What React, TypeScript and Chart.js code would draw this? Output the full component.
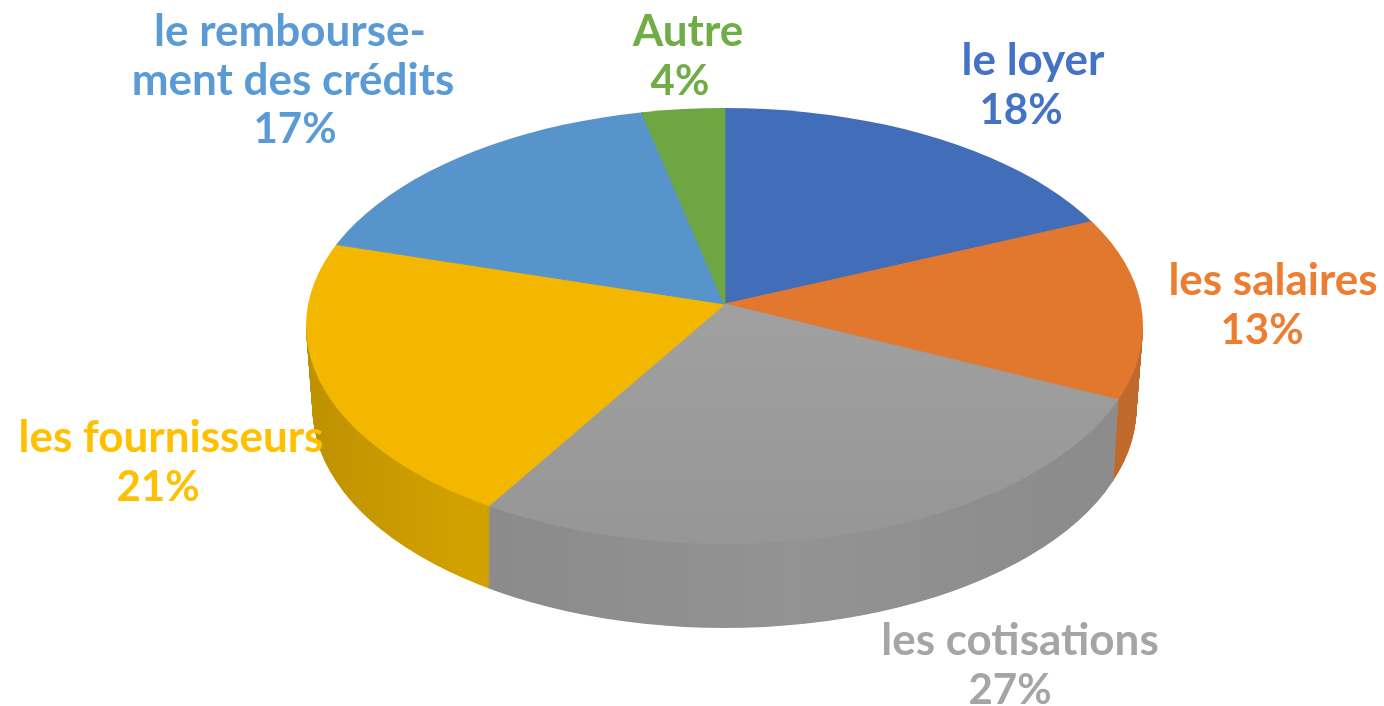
import React, { useEffect, useRef } from "react";
import { Chart, registerables } from "chart.js";

Chart.register(...registerables);

const categories = ["le loyer", "les salaires", "les cotisations", "les fournisseurs", "le rembourse-\nment des crédits", "Autre"];
const shares = [18, 13, 27, 21, 17, 4];
const faceColors = ["#426DB9", "#E2772E", "#9E9E9E", "#F3B700", "#5894CC", "#6EA644"];
const labelColors = ["#4472C4", "#ED7D31", "#A5A5A5", "#FFC000", "#5B9BD5", "#70AD47"];
const wallStops: (string[] | null)[] = [
  null,
  ["#C1692A", "#C1692A"],
  ["#8A8A8A", "#939393", "#8C8C8C"],
  ["#B88C00", "#D2A100"],
  null,
  null,
];
const wallSpans = [[0, 0], [1100, 1145], [490, 1118], [310, 490], [0, 0], [0, 0]];

// Where the text of each slice goes: centre x of every line, and first baseline.
const labelBoxes = [
  { xs: [1033, 1021], y: 75 },
  { xs: [1273, 1262], y: 295 },
  { xs: [1020, 1010], y: 655 },
  { xs: [171, 158], y: 452 },
  { xs: [290, 293, 295], y: 46 },
  { xs: [688, 680], y: 46 },
];
const lineStep = 48.5;

// The disc is seen in perspective: its outline is one ellipse, the apex sits above
// that ellipse's centre, and each quadrant round the apex has its own foreshortening.
const apex = { x: 724.5, y: 304 };
const outline = { cy: 326, rx: 418.5, ry: 218 };
const wallBottom = { cy: 408, rx: 412, ry: 220 };
const quadrants = [
  { ratio: 2.097, right: true, down: false },
  { ratio: 1.63, right: true, down: true },
  { ratio: 2.127, right: false, down: true },
  { ratio: 1.68, right: false, down: false },
];
const reachY = 320;
const wallLayers = 110;

const piePlugin = {
  id: "tiltedPie",
  beforeDatasetDraw() {
    return false;
  },
  afterDatasetsDraw(chart: any) {
    const ctx: CanvasRenderingContext2D = chart.ctx;
    const arcs = chart.getDatasetMeta(0).data;
    const R = arcs[0].outerRadius;
    const W = chart.width;
    const H = chart.height;

    const drawDisc = (
      drop: number,
      ell: { cy: number; rx: number; ry: number },
      lowerOnly: boolean,
      fillOf: (i: number) => any,
    ) => {
      const ay = apex.y + drop;
      const splitX = Math.round(apex.x);
      const splitY = Math.round(ay);
      ctx.save();
      ctx.beginPath();
      ctx.ellipse(apex.x, ell.cy, ell.rx, ell.ry, 0, 0, Math.PI * 2);
      ctx.clip();
      if (lowerOnly) {
        ctx.beginPath();
        ctx.rect(0, Math.floor(ell.cy), W, H - Math.floor(ell.cy));
        ctx.clip();
      }
      quadrants.forEach((q) => {
        if (lowerOnly && !q.down) return;
        ctx.save();
        ctx.beginPath();
        ctx.rect(q.right ? splitX : 0, q.down ? splitY : 0, q.right ? W - splitX : splitX, q.down ? H - splitY : splitY);
        ctx.clip();
        ctx.translate(apex.x, ay);
        ctx.scale((reachY * q.ratio) / R, reachY / R);
        arcs.forEach((arc: any, i: number) => {
          const fill = fillOf(i);
          if (fill === null) return;
          ctx.save();
          ctx.translate(-arc.x, -arc.y);
          const saved = arc.options;
          if (fill) arc.options = { ...saved, backgroundColor: fill, borderColor: fill };
          arc.draw(ctx);
          arc.options = saved;
          ctx.restore();
        });
        ctx.restore();
      });
      ctx.restore();
    };

    // walls
    const kx = (reachY * 1.9) / R;
    const fills = arcs.map((arc: any, i: number) => {
      const stops = wallStops[i];
      if (!stops) return null;
      const g = ctx.createLinearGradient(
        arc.x + (wallSpans[i][0] - apex.x) / kx,
        0,
        arc.x + (wallSpans[i][1] - apex.x) / kx,
        0,
      );
      stops.forEach((c, j) => g.addColorStop(j / (stops.length - 1), c));
      return g;
    });
    for (let l = wallLayers; l >= 1; l--) {
      const t = l / wallLayers;
      const ell = {
        cy: outline.cy + (wallBottom.cy - outline.cy) * t,
        rx: outline.rx + (wallBottom.rx - outline.rx) * t,
        ry: outline.ry + (wallBottom.ry - outline.ry) * t,
      };
      drawDisc(ell.cy - outline.cy, ell, true, (i) => fills[i]);
    }

    // top face
    const arc2 = arcs[2];
    const greyFace = ctx.createLinearGradient(0, arc2.y, 0, arc2.y + (R * 241) / reachY);
    greyFace.addColorStop(0, "#A0A0A0");
    greyFace.addColorStop(1, "#969696");
    drawDisc(0, outline, false, (i) => (i === 2 ? greyFace : undefined));

    // labels
    ctx.save();
    ctx.textAlign = "center";
    ctx.textBaseline = "alphabetic";
    categories.forEach((name, i) => {
      const nameLines = name.split("\n");
      const lines = [...nameLines, `${shares[i]}%`];
      ctx.fillStyle = labelColors[i];
      lines.forEach((line, j) => {
        ctx.font = j < nameLines.length ? "bold 44px Lato" : "bold 42px Lato";
        ctx.fillText(line, labelBoxes[i].xs[j], labelBoxes[i].y + j * lineStep);
      });
    });
    ctx.restore();
  },
};

export default function App() {
  const ref = useRef<HTMLCanvasElement>(null);
  useEffect(() => {
    document.body.style.margin = "0";
    document.body.style.background = "#fff";
    const chart = new Chart(ref.current!, {
      type: "pie",
      data: {
        labels: categories,
        datasets: [{ data: shares, backgroundColor: faceColors, borderColor: faceColors, borderWidth: 1 }],
      },
      options: {
        responsive: false,
        animation: false,
        plugins: { legend: { display: false }, tooltip: { enabled: false } },
      },
      plugins: [piePlugin],
    } as any);
    return () => chart.destroy();
  }, []);
  return (
    <canvas
      ref={ref}
      width={1384}
      height={706}
      style={{ display: "block", width: 1384, height: 706, filter: "blur(0.7px)" }}
    />
  );
}
